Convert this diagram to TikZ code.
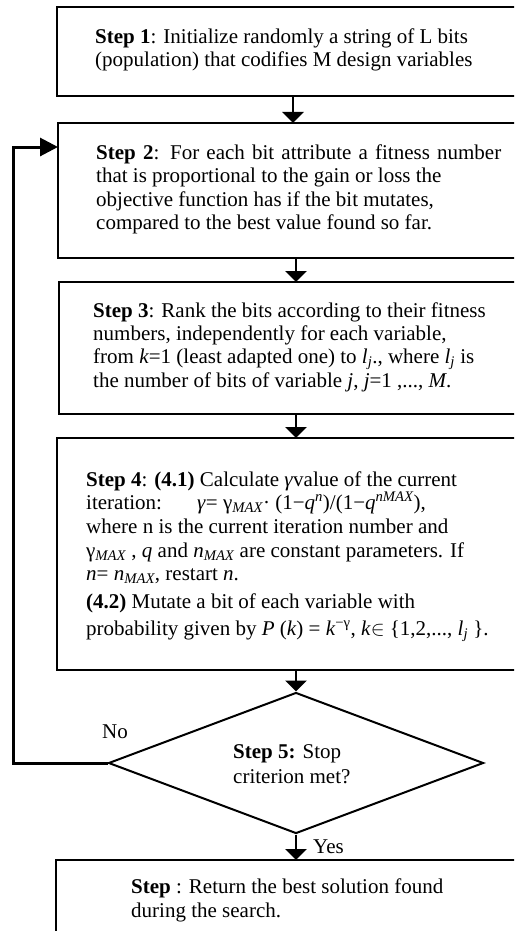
\documentclass[tikz,border=0pt]{standalone}
\usepackage{amsmath}
\usepackage{fontspec}
\setmainfont{Liberation Serif}
\usetikzlibrary{arrows.meta,shapes.geometric}
\begin{document}
\begin{tikzpicture}[x=1pt,y=-1pt,
  box/.style={anchor=north west, inner sep=0pt, outer sep=0.9pt, minimum width=470pt},
  side/.style={line width=1.8pt},
  txt/.style={anchor=base west, inner sep=0pt, font=\fontsize{21}{23}\selectfont},
  arr/.style={line width=2.6pt, -{Triangle[length=11pt,width=21pt]}},
  looparr/.style={line width=3pt, -{Triangle[length=18pt,width=18pt]}}]
\useasboundingbox (0,0) rectangle (514,931);
\clip (0,0) rectangle (514,931);
% boxes (open on the right, cut by the frame)
\node[box, minimum height=87pt] (b1) at (57,7) {};
\node[box, minimum height=133pt] (b2) at (58,123) {};
\node[box, minimum height=130pt] (b3) at (59,282) {};
\node[box, minimum height=230pt] (b4) at (57,438) {};
\node[draw, shape=diamond, line width=2pt, inner sep=0pt, minimum width=375pt, minimum height=141pt] (d5) at (296,763) {};
\node[box, minimum height=100pt] (b5) at (56,860) {};
\draw[side] (b1.north east) -- (b1.north west) -- (b1.south west) -- (b1.south east);
\draw[side] (b2.north east) -- (b2.north west) -- (b2.south west) -- (b2.south east);
\draw[side] (b3.north east) -- (b3.north west) -- (b3.south west) -- (b3.south east);
\draw[side] (b4.north east) -- (b4.north west) -- (b4.south west) -- (b4.south east);
\draw[side] (b5.north east) -- (b5.north west) -- (b5.south west);
% texts
\node[txt] (t1a) at (95,44) {\textbf{Step 1}: Initialize randomly a string of L bits};
\node[txt] (t1b) at (95,67) {(population) that codifies M design variables};
\node[txt] (t2a) at (96,159) {\makebox[405pt][s]{\textbf{Step 2}: For each bit attribute a fitness number}};
\node[txt] (t2b) at (96,182.5) {that is proportional to the gain or loss the};
\node[txt] (t2c) at (96,206) {objective function has if the bit mutates,};
\node[txt] (t2d) at (96,229.5) {compared to the best value found so far.};
\node[txt] (t3a) at (93,317) {\textbf{Step 3}: Rank the bits according to their fitness};
\node[txt] (t3b) at (93,340) {numbers, independently for each variable,};
\node[txt] (t3c) at (93,363) {from \textit{k}=1 (least adapted one) to \textit{l}$_{\textit{j}}$., where \textit{l}$_{\textit{j}}$ is};
\node[txt] (t3d) at (93,387) {the number of bits of variable \textit{j}, \textit{j}=1 ,..., \textit{M}.};
\node[txt] (t4a) at (86,486) {\textbf{Step 4}: \textbf{(4.1)} Calculate \textit{γ}value of the current};
\node[txt] (t4b) at (86,509) {iteration:};
\node[txt] (t4c) at (197,509) {\textit{γ}= γ$_{\textit{MAX}}$\textperiodcentered\ (1−\textit{q}$^{\textit{n}}$)/(1−\textit{q}$^{\textit{nMAX}}$),};
\node[txt] (t4d) at (86,533) {where n is the current iteration number and};
\node[txt] (t4e) at (86,557) {γ$_{\textit{MAX}}$ , \textit{q} and \textit{n}$_{\textit{MAX}}$ are constant parameters. If};
\node[txt] (t4f) at (86,580) {\textit{n}= \textit{n}$_{\textit{MAX}}$, restart \textit{n}.};
\node[txt] (t4g) at (86,608) {\textbf{(4.2)} Mutate a bit of each variable with};
\node[txt] (t4h) at (86,635) {probability given by \textit{P} (\textit{k}) = \textit{k}$^{\text{−γ}}$, \textit{k}$\in$ \{1,2,..., \textit{l}$_{\textit{j}}$ \}.};
\node[txt] (t5a) at (233,758) {\textbf{Step 5:} Stop};
\node[txt] (t5b) at (233,783) {criterion met?};
\node[txt] (no) at (102,738) {No};
\node[txt] (yes) at (313,853) {Yes};
\node[txt] (t6a) at (131,893) {\textbf{Step} : Return the best solution found};
\node[txt] (t6b) at (131,917) {during the search.};
% connectors
\coordinate (c1) at (293,0);
\coordinate (c2) at (296,0);
\coordinate (lp) at (13,147);
\draw[arr] (b1.south -| c1) -- (b2.north -| c1);
\draw[arr] (b2.south -| c2) -- (b3.north -| c2);
\draw[arr] (b3.south -| c2) -- (b4.north -| c2);
\draw[arr] (b4.south -| c2) -- (d5.north);
\draw[arr] (d5.south) -- (b5.north -| c2);
\draw[looparr] (d5.west) -| (lp) -- (b2.west |- lp);
\end{tikzpicture}
\end{document}
